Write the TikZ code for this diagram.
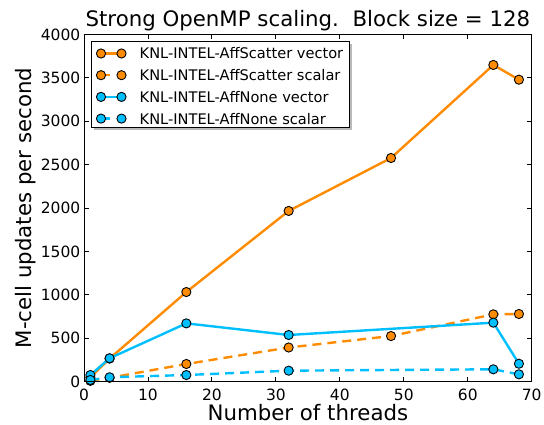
\documentclass[tikz,border=0pt]{standalone}
\usepackage{fontspec}
\setmainfont{DejaVu Sans}
\definecolor{scatcol}{HTML}{FF8C00}
\definecolor{nonecol}{HTML}{00BFFF}
\tikzset{
	vec/.style={line width=2.4pt, line join=round},
	scal/.style={vec, dash pattern=on 9pt off 6pt},
	legscal/.style={vec, dash pattern=on 9pt off 14pt},
	dot/.style={draw=black, line width=0.9pt},
	tk/.style={line width=0.9pt},
	series/.style={mark=*, mark size=4.6pt, mark options={solid, dot, fill=#1}}
}
\begin{document}
\begin{tikzpicture}[x=1pt, y=1pt, font=\fontsize{15.5}{18}\selectfont]
	\useasboundingbox (0,0) rectangle (544,424);
	\path
	(84,42.3) coordinate (O)
	(531.7,389.5) coordinate (T);
	\begin{scope}[shift={(O)}, x=6.396pt, y=0.0868pt]
		% ticks
		\foreach \t in {0,10,...,70}{
			\draw[tk] (\t,0) -- ++(0,5pt) (\t,4000) -- ++(0,-5pt);
			\node[anchor=north, inner sep=0pt] (xt\t) at ([yshift=-7.5pt]\t,0) {\t};
		}
		\foreach \v in {0,500,...,4000}{
			\draw[tk] (0,\v) -- ++(5pt,0) (70,\v) -- ++(-5pt,0);
			\node[anchor=east, inner sep=0pt] (yt\v) at ([xshift=-3.5pt]0,\v) {\v};
		}
		% data
		\draw[vec, scatcol, series=scatcol] plot coordinates
		{(1,50) (4,266) (16,1033) (32,1967) (48,2577) (64,3649) (68,3479)};
		\draw[scal, scatcol, series=scatcol] plot coordinates
		{(1,10) (4,45) (16,204) (32,394) (48,526) (64,776) (68,780)};
		\draw[vec, nonecol, series=nonecol] plot coordinates
		{(1,77) (4,270) (16,672) (32,538) (64,680) (68,207)};
		\draw[scal, nonecol, series=nonecol] plot coordinates
		{(1,20) (4,51) (16,77) (32,127) (64,143) (68,85)};
		\draw[tk] (0,0) rectangle (70,4000);
	\end{scope}
	% legend
	\fill[gray!55] (94,293.5) rectangle (352,380);
	\draw[tk, fill=white] (91,296.5) rectangle (349,383);
	\foreach \c/\s/\txt [count=\i] in {scatcol/vec/KNL-INTEL-AffScatter vector,
		scatcol/legscal/KNL-INTEL-AffScatter scalar,
		nonecol/vec/KNL-INTEL-AffNone vector,
		nonecol/legscal/KNL-INTEL-AffNone scalar}{
		\draw[\s, \c, series=\c] plot coordinates {(101,392.2-21.7*\i) (121.5,392.2-21.7*\i)};
		\node[anchor=west, inner sep=0pt, font=\fontsize{14.6}{17}\selectfont] (lg\i) at (139.5,392.2-21.7*\i) {\txt};
	}
	% labels
	\node[anchor=base, inner sep=0pt, font=\fontsize{21.3}{24}\selectfont] (title) at (307.9,397.3)
	{Strong OpenMP scaling.\ \ Block size = 128};
	\node[anchor=base, inner sep=0pt, font=\fontsize{21.3}{24}\selectfont] (xlab) at (307.9,4)
	{Number of threads};
	\node[anchor=base, rotate=90, inner sep=0pt, font=\fontsize{21.3}{24}\selectfont] (ylab) at (31.5,215.9)
	{M-cell updates per second};
\end{tikzpicture}
\end{document}
